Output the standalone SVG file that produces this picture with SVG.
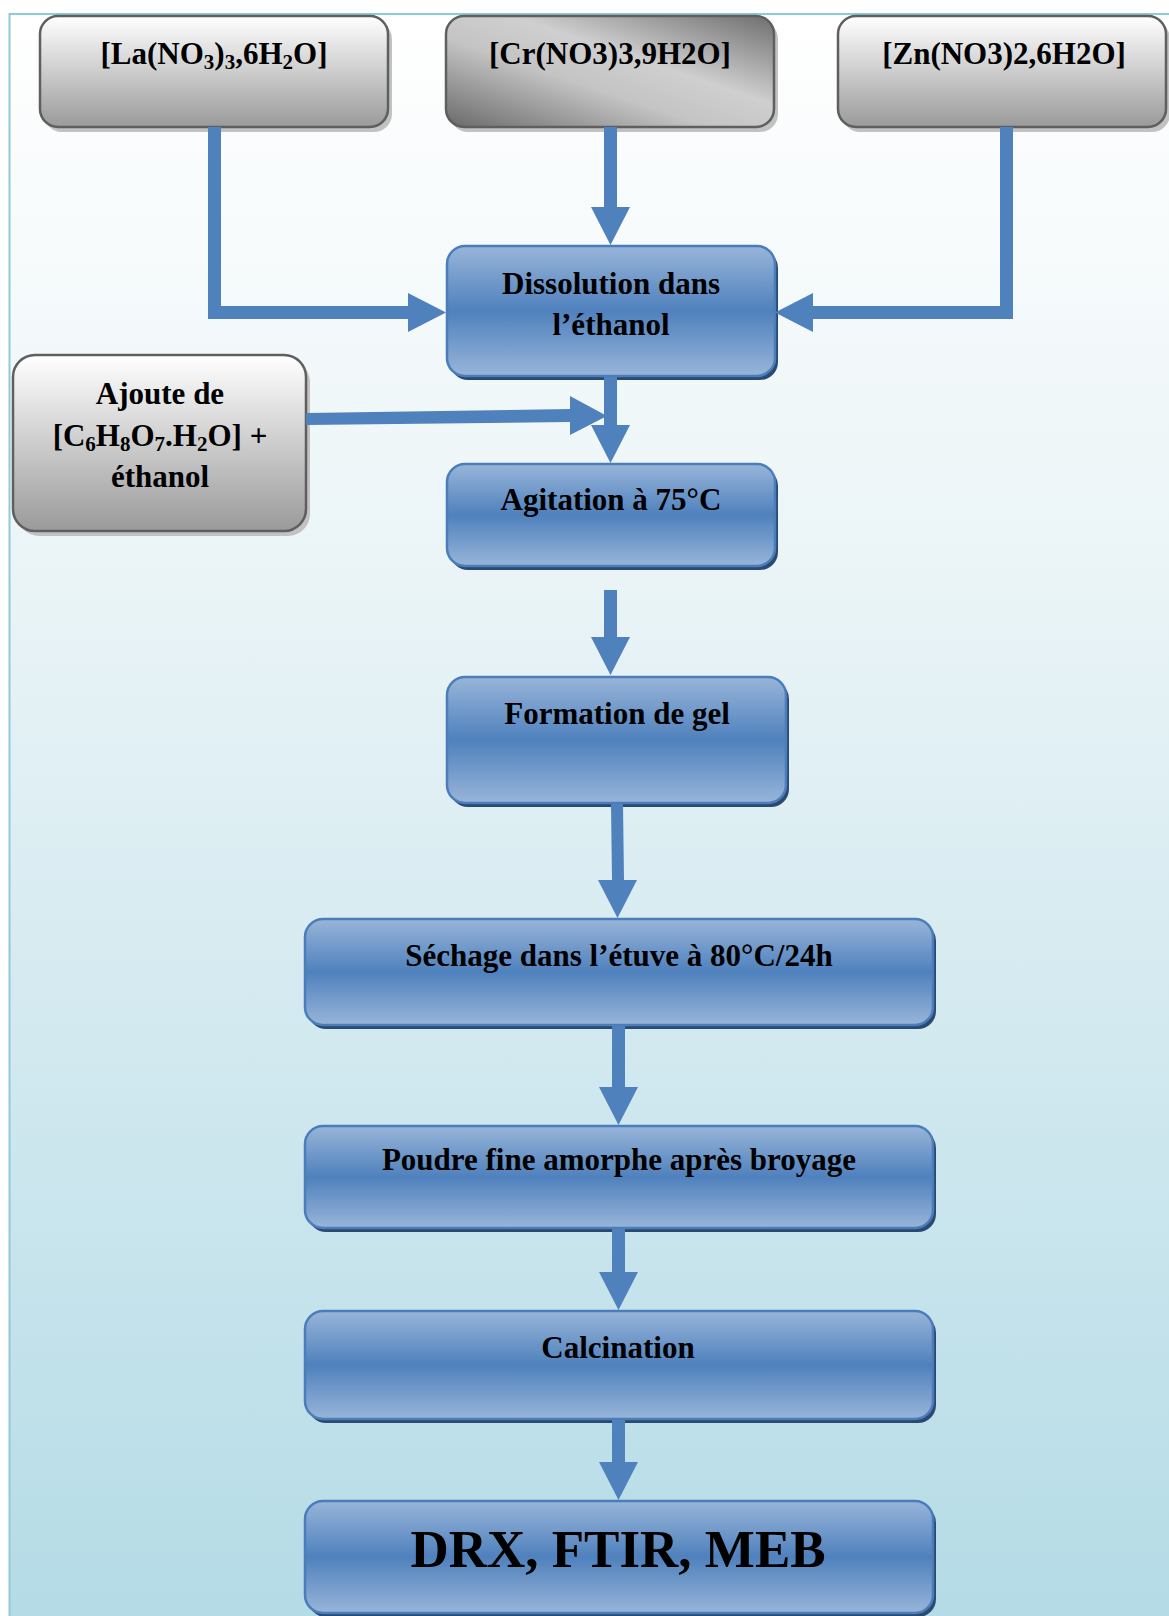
<svg xmlns="http://www.w3.org/2000/svg" width="1169" height="1616" viewBox="0 0 1169 1616">
<defs>
<linearGradient id="bg" x1="0" y1="0" x2="0" y2="1">
<stop offset="0" stop-color="#ffffff"/>
<stop offset="0.35" stop-color="#eaf4f7"/>
<stop offset="1" stop-color="#b4dbe6"/>
</linearGradient>
<linearGradient id="gray" x1="0" y1="0" x2="0" y2="1">
<stop offset="0" stop-color="#ffffff"/>
<stop offset="0.45" stop-color="#d2d2d2"/>
<stop offset="1" stop-color="#9a9a9a"/>
</linearGradient>
<linearGradient id="grayDark" x1="0" y1="1" x2="1" y2="0">
<stop offset="0" stop-color="#6a6a6a"/>
<stop offset="0.4" stop-color="#c4c4c4"/>
<stop offset="0.6" stop-color="#cfcfcf"/>
<stop offset="1" stop-color="#6e6e6e"/>
</linearGradient>
<linearGradient id="blue" x1="0" y1="0" x2="0" y2="1">
<stop offset="0" stop-color="#98b5d9"/>
<stop offset="0.5" stop-color="#4f81bd"/>
<stop offset="1" stop-color="#98b5d9"/>
</linearGradient>
</defs>
<style>
.g{fill:url(#gray);stroke:#5f5f5f;stroke-width:2.5}
.gd{fill:url(#grayDark);stroke:#5f5f5f;stroke-width:2.5}
.gs{fill:#c2c2c2}
.b{fill:url(#blue);stroke:#4a7dba;stroke-width:2.5}
.bs{fill:#2b4a72}
.t{font-family:"Liberation Serif","Times New Roman",serif;font-weight:bold;font-size:31px;fill:#000;text-anchor:middle}
.big{font-size:53px}
.c{fill:#4f81bd}
</style>
<rect x="9.5" y="14" width="1170" height="1610" fill="url(#bg)" stroke="#8fcad8" stroke-width="2"/>

<g id="node-la">
<rect class="gs" x="44" y="21" width="348" height="111" rx="18"/>
<rect class="g" x="40" y="16" width="348" height="111" rx="18"/>
<text class="t" x="214" y="64">[La(NO<tspan dy="5" font-size="21">3</tspan><tspan dy="-5">)</tspan><tspan dy="5" font-size="21">3</tspan><tspan dy="-5">,6H</tspan><tspan dy="5" font-size="21">2</tspan><tspan dy="-5">O]</tspan></text>
</g>
<g id="node-cr">
<rect class="gs" x="450" y="21" width="328" height="111" rx="18"/>
<rect class="gd" x="446" y="16" width="328" height="111" rx="18"/>
<text class="t" x="610" y="64">[Cr(NO3)3,9H2O]</text>
</g>
<g id="node-zn">
<rect class="gs" x="842" y="21" width="328" height="111" rx="18"/>
<rect class="g" x="838" y="16" width="328" height="111" rx="18"/>
<text class="t" x="1004" y="64">[Zn(NO3)2,6H2O]</text>
</g>
<g id="node-dissolution">
<rect class="bs" x="450" y="250" width="328" height="130" rx="18"/>
<rect class="b" x="447" y="246" width="328" height="130" rx="18"/>
<text class="t" x="611" y="294">Dissolution dans</text>
<text class="t" x="611" y="335">l’éthanol</text>
</g>
<g id="node-ajoute">
<rect class="gs" x="17" y="360" width="293" height="176" rx="22"/>
<rect class="g" x="13" y="355" width="293" height="176" rx="22"/>
<text class="t" x="160" y="404">Ajoute de</text>
<text class="t" x="160" y="446">[C<tspan dy="5" font-size="21">6</tspan><tspan dy="-5">H</tspan><tspan dy="5" font-size="21">8</tspan><tspan dy="-5">O</tspan><tspan dy="5" font-size="21">7</tspan><tspan dy="-5">.H</tspan><tspan dy="5" font-size="21">2</tspan><tspan dy="-5">O] +</tspan></text>
<text class="t" x="160" y="487">éthanol</text>
</g>
<g id="node-agitation">
<rect class="bs" x="450" y="468" width="328" height="102" rx="18"/>
<rect class="b" x="447" y="464" width="328" height="102" rx="18"/>
<text class="t" x="611" y="510">Agitation à 75°C</text>
</g>
<g id="node-formation">
<rect class="bs" x="450" y="681" width="339" height="126" rx="18"/>
<rect class="b" x="447" y="677" width="339" height="126" rx="18"/>
<text class="t" x="617" y="724">Formation de gel</text>
</g>
<g id="node-sechage">
<rect class="bs" x="308" y="923" width="628" height="106" rx="18"/>
<rect class="b" x="305" y="919" width="628" height="106" rx="18"/>
<text class="t" x="619" y="966">Séchage dans l’étuve à 80°C/24h</text>
</g>
<g id="node-poudre">
<rect class="bs" x="308" y="1130" width="628" height="102" rx="18"/>
<rect class="b" x="305" y="1126" width="628" height="102" rx="18"/>
<text class="t" x="619" y="1170">Poudre fine amorphe après broyage</text>
</g>
<g id="node-calcination">
<rect class="bs" x="308" y="1315" width="628" height="108" rx="18"/>
<rect class="b" x="305" y="1311" width="628" height="108" rx="18"/>
<text class="t" x="618" y="1358">Calcination</text>
</g>
<g id="node-drx">
<rect class="bs" x="308" y="1505" width="628" height="112" rx="18"/>
<rect class="b" x="305" y="1501" width="628" height="112" rx="18"/>
<text class="t big" x="618" y="1567">DRX, FTIR, MEB</text>
</g>

<g id="connectors">
<path class="c" d="M208,127 L221,127 L221,306 L408,306 L408,293 L446,312.5 L408,332 L408,319 L208,319 Z"/>
<path class="c" d="M604,127 H617 V207 H630 L610.5,245 L591,207 H604 Z"/>
<path class="c" d="M1000,127 H1013 V319 H813 V332 L775,312.5 L813,293 V306 H1000 Z"/>
<path class="c" d="M306,413 L570,409 L570,396 L607,416 L570,435 L570,422 L306,425 Z"/>
<path class="c" d="M604,377 H617 V425 H630 L610.5,463 L591,425 H604 Z"/>
<path class="c" d="M604,590 H617 V637 H630 L610.5,675 L591,637 H604 Z"/>
<path class="c" d="M611,804 L623,804 L624,880 L637,880 L617.5,918 L598,880 L612,880 Z"/>
<path class="c" d="M612,1026 H625 V1087 H638 L618.5,1125 L599,1087 H612 Z"/>
<path class="c" d="M612,1229 H625 V1272 H638 L618.5,1310 L599,1272 H612 Z"/>
<path class="c" d="M612,1420 H625 V1462 H638 L618.5,1500 L599,1462 H612 Z"/>
</g>
</svg>
